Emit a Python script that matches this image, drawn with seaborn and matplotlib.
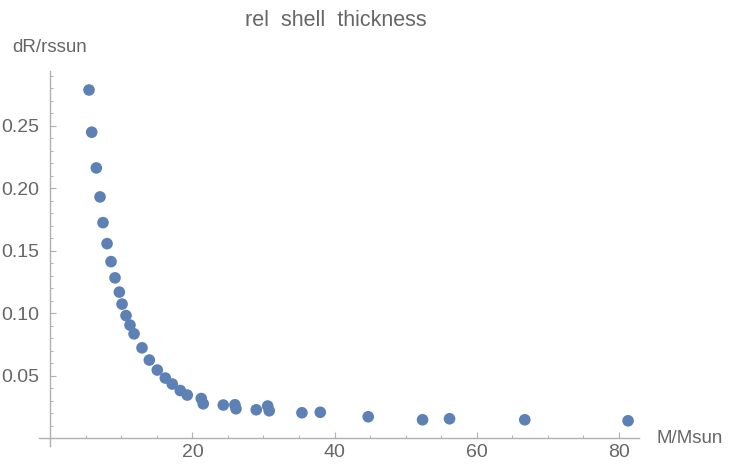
import matplotlib
matplotlib.use("Agg")
import matplotlib.pyplot as plt
import seaborn as sns
import numpy as np
import pandas as pd
from matplotlib.ticker import FixedLocator

mass = [5.44, 5.82, 6.47, 6.99, 7.41, 7.98, 8.54, 9.10, 9.71, 10.09, 10.65, 11.21,
        11.78, 12.90, 13.93, 15.05, 16.18, 17.16, 18.29, 19.27, 21.24, 21.52,
        24.34, 25.98, 26.13, 28.98, 30.59, 30.81, 35.41, 37.99, 44.74, 52.39,
        56.19, 66.78, 81.32]
thick = [0.2788, 0.2450, 0.2164, 0.1932, 0.1726, 0.1558, 0.1414, 0.1284, 0.1170,
         0.1074, 0.0982, 0.0906, 0.0836, 0.0724, 0.0626, 0.0546, 0.0482, 0.0434,
         0.0382, 0.0346, 0.0318, 0.0276, 0.0266, 0.0268, 0.0236, 0.0228, 0.0258,
         0.0220, 0.0204, 0.0208, 0.0172, 0.0148, 0.0156, 0.0148, 0.0140]
x_major = [20, 40, 60, 80]
y_major = [0.05, 0.10, 0.15, 0.20, 0.25]
y_labels = ["0.05", "0.10", "0.15", "0.20", "0.25"]

sns.set_style("white")
plt.rcParams['font.family'] = ['Liberation Sans', 'DejaVu Sans']

df = pd.DataFrame({"M": mass, "dR": thick})
W, H = 732, 465
fig = plt.figure(figsize=(W / 100, H / 100), dpi=100)
ax = fig.add_axes([39 / W, (H - 446) / H, (639.3 - 39) / W, (446 - 71) / H])

sns.scatterplot(data=df, x="M", y="dR", ax=ax, color="#5E81B5", s=70,
                edgecolor="none", linewidth=0, legend=False)

ax.set_xlim(-1.6, 82.9)
ax.set_ylim(-0.0062, 0.294)
axis_col = "#b0b0b0"
txt_col = "#666666"
for side in ["top", "right"]:
    ax.spines[side].set_visible(False)
ax.spines["left"].set_position(("data", 0))
ax.spines["bottom"].set_position(("data", 0))
for side in ["left", "bottom"]:
    ax.spines[side].set_color(axis_col)
    ax.spines[side].set_linewidth(1.0)

ax.xaxis.set_major_locator(FixedLocator(x_major))
ax.xaxis.set_minor_locator(FixedLocator([v for v in range(5, 85, 5) if v % 20 != 0]))
ax.yaxis.set_major_locator(FixedLocator(y_major))
ax.set_yticklabels(y_labels)
ax.yaxis.set_minor_locator(FixedLocator([v / 100 for v in range(1, 30) if v % 5 != 0]))
ax.tick_params(axis="both", which="major", direction="in", length=4, width=0.8,
               color=axis_col, labelcolor=txt_col, labelsize=14)
ax.tick_params(axis="both", which="minor", direction="in", length=2.5, width=0.7,
               color=axis_col)
ax.tick_params(axis="y", which="major", pad=8)
ax.tick_params(axis="x", which="major", pad=4)
ax.tick_params(left=True, bottom=True, which="both")
ax.set_xlabel("")
ax.set_ylabel("")

fig.text(336 / W, 1 - 21 / H, "rel  shell  thickness", ha="center", va="center",
         fontsize=15.5, color=txt_col)
fig.text(12 / W, 1 - 47 / H, "dR/rssun", ha="left", va="center",
         fontsize=13.5, color=txt_col)
fig.text(656 / W, 1 - 438 / H, "M/Msun", ha="left", va="center",
         fontsize=13.5, color=txt_col)

fig.savefig("out.png", dpi=100)
